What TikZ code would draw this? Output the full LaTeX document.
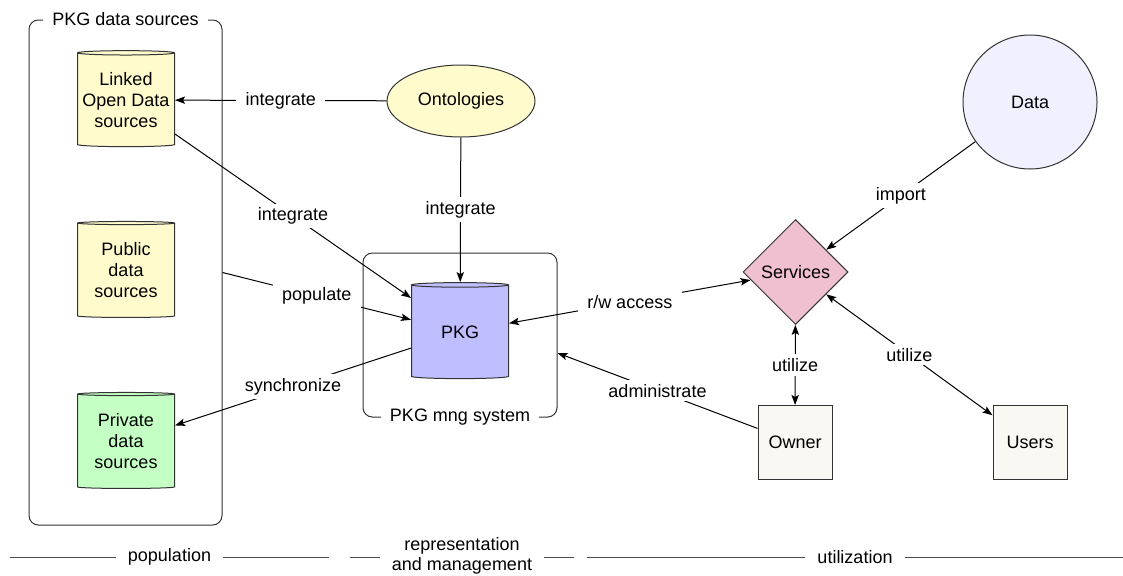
\documentclass[tikz,border=0pt]{standalone}
\usepackage{fontspec}
\setmainfont{Liberation Sans}
\usepackage{tikz}
\usetikzlibrary{shapes.geometric, arrows.meta, positioning}
\usepackage{xcolor}
\definecolor{srcYellow}{RGB}{255, 251, 204}
\definecolor{srcGreen}{RGB}{196, 255, 196}
\definecolor{pkgBlue}{RGB}{191, 191, 255}
\definecolor{dataLilac}{RGB}{240, 240, 255}
\definecolor{svcPink}{RGB}{240, 192, 208}
\definecolor{actorIvory}{RGB}{250, 248, 242}
\newcommand{\pxu}{0.75pt}

\begin{document}
\begin{tikzpicture}[x=0.75pt, y=-0.75pt, line width=0.75pt,
  font=\fontsize{13.5}{15.75}\selectfont,
  store/.style={cylinder, shape border rotate=90, aspect=0.05, draw=black!80,
    minimum width=97*\pxu, minimum height=96*\pxu, inner sep=0pt, align=center},
  group/.style={draw=black!80, rounded corners=7pt, inner sep=0pt},
  grouplabel/.style={fill=white, inner xsep=7pt, inner ysep=2pt},
  actor/.style={draw=black!80, fill=actorIvory, minimum size=74*\pxu, inner sep=0pt},
  link/.style={draw=black, -{Stealth[length=7.5pt, width=5.5pt, inset=1.5pt]}},
  twoway/.style={draw=black, {Stealth[length=7.5pt, width=5.5pt, inset=1.5pt]}-{Stealth[length=7.5pt, width=5.5pt, inset=1.5pt]}},
  edgelabel/.style={fill=white, inner xsep=7pt, inner ysep=3pt},
  phase/.style={draw=black!70},
  phaselabel/.style={fill=white, inner xsep=9pt, inner ysep=1pt, align=center,
    font=\fontsize{13.5}{14.6}\selectfont}]
  \useasboundingbox (0,0) rectangle (1123,575);

  % groups
  \node[group, minimum width=193*\pxu, minimum height=505*\pxu] (srcs) at (125.5,272.5) {};
  \node[grouplabel] at (srcs.north) {PKG data sources};
  \node[group, minimum width=194*\pxu, minimum height=164*\pxu] (mng) at (460,335) {};
  \node[grouplabel] at (mng.south) {PKG mng system};

  % data sources
  \node[store, fill=srcYellow] (lod) at (126,100) {Linked\\Open Data\\sources};
  \node[store, fill=srcYellow] (pub) at (126,270.5) {Public\\data\\sources};
  \node[store, fill=srcGreen] (priv) at (126,441.5) {Private\\data\\sources};

  % core
  \node[store, fill=pkgBlue, aspect=0.12] (pkg) at (460,332) {PKG};
  \node[ellipse, draw=black!80, fill=srcYellow, minimum width=148*\pxu,
    minimum height=72*\pxu, inner sep=0pt] (onto) at (461,101) {Ontologies};

  % utilization side
  \node[circle, draw=black!80, fill=dataLilac, minimum size=134*\pxu, inner sep=0pt] (data) at (1030,102) {Data};
  \node[diamond, draw=black!80, fill=svcPink, minimum size=105*\pxu, inner sep=0pt] (svc) at (795.5,272) {Services};
  \node[actor] (owner) at (795,442.5) {Owner};
  \node[actor] (users) at (1030,442.5) {Users};

  % connectors
  \draw[link] (onto) -- node[edgelabel] {integrate} (lod);
  \draw[link] (lod) -- node[edgelabel] {integrate} (pkg);
  \draw[link] (onto) -- node[edgelabel] {integrate} (pkg);
  \draw[link] (srcs.east) -- node[edgelabel] {populate} (pkg);
  \draw[link] (pkg) -- node[edgelabel] {synchronize} (priv);
  \draw[twoway] (svc) -- node[edgelabel] {r/w access} (pkg);
  \draw[link] (owner) -- node[edgelabel] {administrate} ([yshift=-13.5pt]mng.east);
  \draw[link] (data) -- node[edgelabel] {import} (svc);
  \draw[twoway] (svc) -- node[edgelabel] {utilize} (owner);
  \draw[twoway] (svc) -- node[edgelabel] {utilize} (users);

  % phases
  \coordinate (popL) at (10,557);
  \coordinate (popR) at (329,557);
  \coordinate (repL) at (350,557);
  \coordinate (repR) at (574,557);
  \coordinate (utlL) at (587,557);
  \coordinate (utlR) at (1123,557);
  \draw[phase] (popL) -- node[phaselabel] (pop) {population} (popR);
  \draw[phase] (repL) -- node[phaselabel, yshift=0.75pt] (rep) {representation\\and management} (repR);
  \draw[phase] (utlL) -- node[phaselabel] (utl) {utilization} (utlR);
\end{tikzpicture}
\end{document}
